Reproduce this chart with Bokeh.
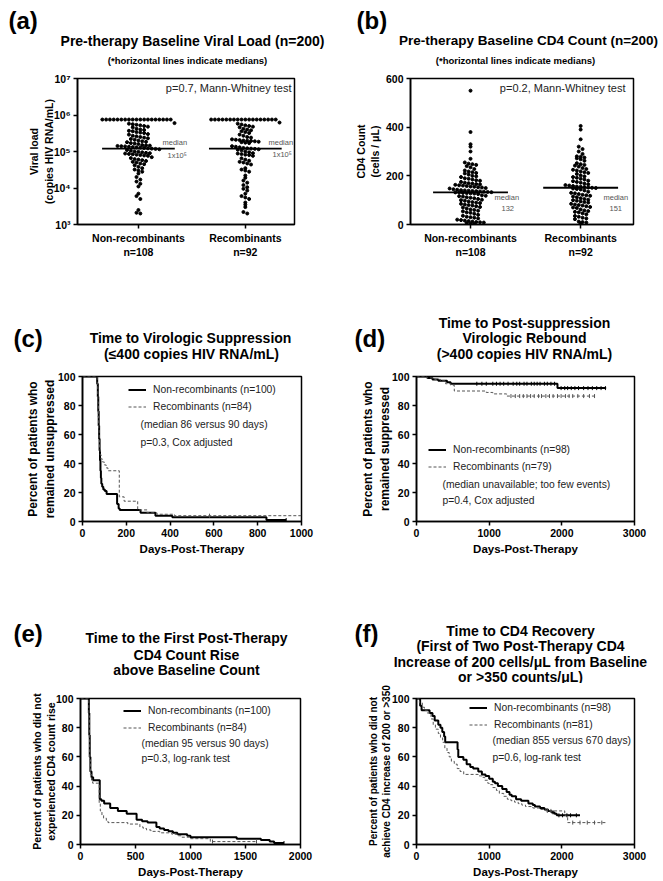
import numpy as np
from bokeh.plotting import figure
from bokeh.layouts import column, row
from bokeh.models import Label, FixedTicker, Legend, LegendItem, Range1d
from bokeh.embed import file_html
from bokeh.resources import INLINE

FONT = "Liberation Sans"

# ---------------- data ----------------
groups = ["Non-recombinants\nn=108", "Recombinants\nn=92"]

vl_nonrec = ([750000] * 19 +
             [600000, 580000, 560000, 540000, 520000, 500000, 480000, 460000] +
             [420000, 400000, 390000, 370000, 360000, 340000, 330000, 320000] +
             [300000, 290000, 270000, 260000, 250000, 240000, 230000] +
             [220000, 210000, 200000, 190000, 185000, 180000, 170000, 165000, 160000] +
             [150000, 148000, 145000, 142000, 140000, 138000, 135000, 132000, 130000,
              128000, 125000, 122000, 120000, 118000, 115000, 110000] +
             [105000, 100000, 98000, 95000, 92000, 90000, 88000, 86000, 84000, 82000,
              80000, 78000, 76000] +
             [70000, 66000, 62000, 60000, 58000, 55000, 52000, 50000, 47000, 45000] +
             [42000, 38000, 35000, 32000, 30000, 28000] +
             [25000, 20000, 17000, 15000] + [13000, 11000] +
             [7000, 6000, 5000] + [2500, 2100, 2000])
vl_rec = ([750000] * 18 +
          [620000, 580000, 550000, 520000, 500000, 480000, 460000] +
          [420000, 400000, 380000, 360000, 340000, 320000] +
          [290000, 270000, 250000, 240000] +
          [215000, 210000, 205000, 200000, 198000, 195000, 190000, 185000, 180000, 175000, 170000] +
          [140000, 135000, 130000, 125000, 122000, 120000, 118000, 115000, 112000, 108000] +
          [100000, 95000, 90000, 88000, 85000, 82000, 80000, 76000] +
          [65000, 60000, 56000, 52000, 50000, 47000, 44000] +
          [35000, 32000, 30000, 28000] + [22000, 19000, 16000, 14000] +
          [12000, 10500, 9500, 8500] + [7000, 6000, 5500, 5000] +
          [4000, 3500, 3000] + [2200, 2000])
vl_medians = [120000, 120000]

cd4_nonrec = ([550, 380, 330, 320, 300, 270] +
              [255, 250, 248, 245, 240, 235] +
              [228, 222, 218, 215, 212, 210, 205] +
              [200, 198, 195, 190, 188, 185, 182, 180, 175] +
              [172, 170, 168, 166, 165, 163, 161, 160, 158, 156, 155, 153, 152, 150, 148] +
              [145, 143, 141, 140, 139, 138, 137, 136, 135, 134, 133, 132, 131, 130, 129, 128, 127, 125] +
              [120, 118, 116, 115, 112, 110, 108, 105, 102, 100] +
              [98, 95, 92, 90, 88, 85, 82, 80, 78, 75] +
              [72, 70, 66, 62, 60, 57, 54, 50, 48] +
              [44, 40, 36, 32, 30, 28, 25] +
              [20, 18, 16, 14, 12, 10, 9, 8, 6, 4, 2])
cd4_rec = ([405, 390, 350, 320, 310, 300, 290] +
           [280, 278, 275, 272, 268, 262] +
           [252, 248, 245, 242, 238, 232] +
           [228, 225, 222, 218, 215, 212, 208] +
           [202, 198, 195, 192, 188, 185] +
           [180, 178, 175, 172, 168, 165, 162, 160] +
           [158, 156, 155, 154, 152, 151, 150, 148, 146, 144] +
           [140, 135, 130, 128, 125, 122, 120, 118, 115, 112] +
           [108, 105, 102, 100, 98, 95, 92, 90] +
           [85, 82, 80, 78, 75, 72, 70, 68] +
           [62, 58, 55, 52, 50, 46, 42] +
           [35, 32, 28, 25, 22] + [12, 10, 8, 5])
cd4_medians = [132, 151]

# Kaplan-Meier curves: time (days) and percent remaining from that time on
c_nr_t = [0, 67, 70, 72, 74, 76, 78, 80, 82, 84, 86, 90, 95, 102, 110, 158, 165, 170, 265, 333, 410, 840, 930]
c_nr_s = [100, 95, 86, 76, 66, 57, 49, 42, 35, 30, 26, 24, 22, 21, 19, 12, 9, 8, 6, 4, 3, 1, 1]
c_r_t = [0, 67, 70, 72, 74, 76, 78, 81, 85, 92, 100, 108, 116, 168, 190, 252, 295, 340, 420, 1000]
c_r_s = [100, 93, 82, 72, 63, 56, 50, 46, 43, 41, 39, 37, 35, 17, 14, 8, 6, 5, 4, 4]
c_nr_cens = [930]
c_r_cens = [580]

d_nr_t = [0, 150, 220, 300, 420, 470, 1940, 2610]
d_nr_s = [100, 99, 98, 97, 96, 95, 92, 92]
d_r_t = [0, 140, 250, 330, 400, 470, 520, 960, 1050, 1240, 2480]
d_r_s = [100, 99, 98, 97, 95, 94, 90, 89, 88, 86.5, 86.5]
d_nr_cens = [830, 900, 960, 1050, 1100, 1150, 1200, 1260, 1330, 1380, 1420, 1480, 1520, 1580,
             1620, 1660, 1700, 1760, 1800, 1850, 1900, 1990, 2040, 2080, 2130, 2180, 2230,
             2300, 2360, 2420, 2480, 2540, 2600]
d_r_cens = [1300, 1360, 1420, 1470, 1520, 1570, 1620, 1680, 1720, 1780, 1830, 1880, 1940,
            1990, 2050, 2100, 2150, 2220, 2300, 2380, 2450]

e_nr_t = [0, 76, 80, 84, 90, 100, 115, 175, 190, 215, 270, 340, 420, 510, 560, 610, 690, 720,
          760, 800, 840, 880, 970, 1000, 1420, 1640, 1720, 1760, 1850]
e_nr_s = [100, 90, 75, 60, 50, 46, 44, 31, 30, 28, 25, 23, 21, 17, 16, 15, 12, 11, 10, 9, 8, 7,
          6, 5, 4, 3, 2, 1, 1]
e_r_t = [0, 76, 80, 84, 90, 100, 110, 170, 180, 195, 210, 235, 250, 430, 540, 570, 600, 640,
         720, 830, 880, 920, 1000, 1180, 1600]
e_r_s = [100, 88, 72, 58, 48, 44, 42, 28, 23, 20, 18, 16, 15, 14, 12, 11, 10, 9, 8, 7, 6, 5,
         4, 2, 2]
e_nr_cens = [1850]
e_r_cens = [1200, 1600]

f_nr_t = [0, 50, 70, 180, 220, 250, 300, 330, 355, 380, 395, 565, 575, 645, 690, 740, 780, 850,
          900, 950, 1000, 1050, 1080, 1120, 1180, 1240, 1280, 1310, 1370, 1440, 1540, 1600,
          1630, 1700, 1760, 1810, 1860, 1900, 1930, 2250]
f_nr_s = [100, 95, 92, 90, 88, 85, 82, 80, 77, 74, 70, 65, 60, 58, 55, 53, 52, 50, 48, 47, 45,
          43, 42, 40, 38, 36, 34, 33, 31, 30, 28, 27, 26, 25, 24, 23, 22, 21, 20, 20]
f_r_t = [0, 40, 80, 110, 150, 200, 230, 260, 300, 330, 360, 390, 420, 450, 480, 520, 560, 600,
         650, 850, 900, 940, 980, 1000, 1050, 1100, 1140, 1200, 1250, 1300, 1350, 1400, 1450,
         1500, 1600, 1700, 1780, 2040, 2080, 2620]
f_r_s = [100, 97, 94, 92, 90, 86, 82, 79, 76, 73, 70, 66, 63, 60, 57, 55, 52, 50, 48, 47, 46,
         44, 42, 41, 39, 37, 35, 33, 31, 30, 29, 28, 27, 26, 25, 24, 23, 20, 15, 15]
f_nr_cens = [1880, 1960, 2010, 2070, 2120, 2200]
f_r_cens = [1800, 1850, 2150, 2250, 2350, 2450, 2550]

# ---------------- helpers ----------------
TXT = "#222222"
GREY = "#555555"
LEG = "10.3px"


def make_fig(w, h, bl, br, bt, bb, xr, yr, y_type="linear", ylab=None, xlab=None,
             ylab_size=12, ylab_standoff=3):
    p = figure(width=w, height=h, min_border_left=bl, min_border_right=br,
               min_border_top=bt, min_border_bottom=bb, x_range=xr, y_range=yr,
               y_axis_type=y_type, output_backend="svg", toolbar_location=None, tools="",
               title=None, frame_align=False)
    p.grid.visible = False
    p.outline_line_color = "black"
    p.outline_line_width = 1.5
    p.background_fill_color = "white"
    p.border_fill_color = "white"
    for ax in p.axis:
        ax.axis_line_width = 1.6
        ax.major_tick_line_width = 1.5
        ax.major_tick_in = 0
        ax.major_tick_out = 4
        ax.minor_tick_line_color = None
        ax.major_label_text_font = FONT
        ax.major_label_text_font_style = "bold"
        ax.major_label_text_font_size = "10.5px"
        ax.major_label_text_color = "black"
        ax.major_label_standoff = 3
        ax.axis_label_text_font = FONT
        ax.axis_label_text_font_style = "bold"
        ax.axis_label_text_color = "black"
    if ylab:
        p.yaxis.axis_label = ylab
        p.yaxis.axis_label_text_font_size = f"{ylab_size}px"
        p.yaxis.axis_label_standoff = ylab_standoff
    if xlab:
        p.xaxis.axis_label = xlab
        p.xaxis.axis_label_text_font_size = "11.5px"
        p.xaxis.axis_label_standoff = 3
    return p


def header(w, h, cell_left, cell_top, items):
    p = figure(width=w, height=h, x_range=Range1d(0, w), y_range=Range1d(0, h),
               min_border=0, output_backend="svg", toolbar_location=None, tools="",
               title=None, x_axis_location=None, y_axis_location=None, frame_align=False)
    p.grid.visible = False
    p.outline_line_color = None
    p.background_fill_color = "white"
    p.border_fill_color = "white"
    for x, y, text, size, align in items:
        p.add_layout(Label(x=x - cell_left, y=h - (y - cell_top), text=text, text_font=FONT,
                           text_font_size=f"{size}px", text_font_style="bold",
                           text_align=align, text_baseline="middle", text_color="black"))
    return p


def txt(p, fl, fb, x, y, text, size, align="left", color=TXT):
    p.add_layout(Label(x=x - fl, y=fb - y, x_units="screen", y_units="screen",
                       text=text, text_font=FONT, text_font_size=f"{size}px",
                       text_align=align, text_baseline="middle", text_color=color))


def row_offsets(ypx, h, sp):
    ypx = np.asarray(ypx)
    bins = np.round(ypx / h).astype(int)
    off = np.zeros(len(ypx))
    for b in np.unique(bins):
        idx = np.where(bins == b)[0]
        n = len(idx)
        off[idx] = (np.arange(n) - (n - 1) / 2.0) * sp
    return off


def km_level(T, S, t):
    i = np.searchsorted(np.asarray(T), t, side="right") - 1
    return S[max(i, 0)]


def km_panel(p, nr_t, nr_s, r_t, r_s, nr_c, r_c, labels, legend_loc):
    r1 = p.step(nr_t, nr_s, mode="after", line_color="black", line_width=2)
    r2 = p.step(r_t, r_s, mode="after", line_color=GREY, line_width=1, line_dash="3 2")
    p.scatter(nr_c, [km_level(nr_t, nr_s, t) for t in nr_c], marker="dash", angle=np.pi / 2,
              size=4, line_color="black", line_width=1)
    p.scatter(r_c, [km_level(r_t, r_s, t) for t in r_c], marker="dash", angle=np.pi / 2,
              size=4, line_color=GREY, line_width=1)
    leg = Legend(items=[LegendItem(label=labels[0], renderers=[r1]),
                        LegendItem(label=labels[1], renderers=[r2])],
                 location=legend_loc, padding=0, margin=0, spacing=0,
                 label_height=17, glyph_height=17, glyph_width=18, label_standoff=7,
                 label_text_font=FONT, label_text_font_size=LEG, label_text_color=TXT,
                 background_fill_alpha=0, border_line_color=None)
    p.add_layout(leg)


def dot_panel(p, vals_list, medians, ypx_func, ppu):
    for k, vals in enumerate(vals_list):
        yp = [ypx_func(v) for v in vals]
        off = row_offsets(yp, 3.8, 3.8)
        p.scatter(k + 1 + off / ppu, vals, size=3.0, color="black", marker="circle")
        p.segment(x0=[k + 1 - 0.34], x1=[k + 1 + 0.34], y0=[medians[k]], y1=[medians[k]],
                  line_color="black", line_width=1.8)
    p.xaxis.ticker = FixedTicker(ticks=[1, 2])
    p.xaxis.major_label_overrides = {1: groups[0], 2: groups[1]}


YT = FixedTicker(ticks=[0, 20, 40, 60, 80, 100])

# ---------------- panel (a) ----------------
ha = header(331, 71, 0, 0, [
    (8, 20, "(a)", 24, "left"),
    (192, 40, "Pre-therapy Baseline Viral Load (n=200)", 14, "center"),
    (187, 60, "(*horizontal lines indicate medians)", 9.5, "center")])
pa = make_fig(331, 219, 77, 37, 7, 66, Range1d(0.43, 2.46), Range1d(1e3, 1e7), "log",
              ylab="Viral load\n(copies HIV RNA/mL)", ylab_size=10.5, ylab_standoff=-4)
pa.yaxis.ticker = FixedTicker(ticks=[1000, 10000, 100000, 1000000, 10000000])
pa.yaxis.major_label_overrides = {1000: "10³", 10000: "10⁴", 100000: "10⁵",
                                  1000000: "10⁶", 10000000: "10⁷"}
dot_panel(pa, [vl_nonrec, vl_rec], vl_medians, lambda v: np.log10(v) * 146 / 4,
          217 / (2.46 - 0.43))
A = (pa, 77, 224)
txt(*A, 291, 87, "p=0.7, Mann-Whitney test", 11, align="right")
txt(*A, 162, 142, "median", 7.5, color=GREY)
txt(*A, 167, 155, "1x10⁵", 7.5, color=GREY)
txt(*A, 268, 142, "median", 7.5, color=GREY)
txt(*A, 272, 154, "1x10⁵", 7.5, color=GREY)

# ---------------- panel (b) ----------------
hb = header(331, 71, 331, 0, [
    (356, 20, "(b)", 24, "left"),
    (528, 40, "Pre-therapy Baseline CD4 Count (n=200)", 13.5, "center"),
    (515, 60, "(*horizontal lines indicate medians)", 9.5, "center")])
pb = make_fig(331, 219, 79, 29, 7, 66, Range1d(0.455, 2.48), Range1d(0, 600),
              ylab="CD4 Count\n(cells / μL)", ylab_size=10.5, ylab_standoff=2)
pb.yaxis.ticker = FixedTicker(ticks=[0, 200, 400, 600])
dot_panel(pb, [cd4_nonrec, cd4_rec], cd4_medians, lambda v: v * 146 / 600,
          223 / (2.48 - 0.455))
B = (pb, 410, 224)
txt(*B, 625, 87, "p=0.2, Mann-Whitney test", 11, align="right")
txt(*B, 494, 197, "median", 7.5, color=GREY)
txt(*B, 501, 208, "132", 7.5, color=GREY)
txt(*B, 603, 197, "median", 7.5, color=GREY)
txt(*B, 609, 208, "151", 7.5, color=GREY)

# ---------------- panel (c) ----------------
hc = header(331, 79, 0, 290, [
    (13, 338, "(c)", 24, "left"),
    (190, 337, "Time to Virologic Suppression", 14, "center"),
    (191, 353, "(≤400 copies HIV RNA/mL)", 14, "center")])
pc = make_fig(331, 221, 82, 30, 7, 69, Range1d(0, 1000), Range1d(0, 100),
              ylab="Percent of patients who\nremained unsuppressed", ylab_size=12,
              ylab_standoff=-2, xlab="Days-Post-Therapy")
pc.xaxis.ticker = FixedTicker(ticks=[0, 200, 400, 600, 800, 1000])
pc.yaxis.ticker = YT
km_panel(pc, c_nr_t, c_nr_s, c_r_t, c_r_s, c_nr_cens, c_r_cens,
         ["Non-recombinants (n=100)", "Recombinants (n=84)"], (46, 106.5))
C = (pc, 82, 521)
txt(*C, 140, 424, "(median 86 versus 90 days)", 10.3)
txt(*C, 140, 442, "p=0.3, Cox adjusted", 10.3)

# ---------------- panel (d) ----------------
hd = header(331, 79, 331, 290, [
    (354, 338, "(d)", 24, "left"),
    (524, 322, "Time to Post-suppression", 14, "center"),
    (524, 337, "Virologic Rebound", 14, "center"),
    (524, 353, "(>400 copies HIV RNA/mL)", 14, "center")])
pd_ = make_fig(331, 221, 85, 28, 7, 69, Range1d(0, 3000), Range1d(0, 100),
               ylab="Percent of patients who\nremained suppressed", ylab_size=12,
               ylab_standoff=-3, xlab="Days-Post-Therapy")
pd_.xaxis.ticker = FixedTicker(ticks=[0, 1000, 2000, 3000])
pd_.yaxis.ticker = YT
km_panel(pd_, d_nr_t, d_nr_s, d_r_t, d_r_s, d_nr_cens, d_r_cens,
         ["Non-recombinants (n=98)", "Recombinants (n=79)"], (12, 46.5))
D = (pd_, 416, 521)
txt(*D, 442, 484, "(median unavailable; too few events)", 10.3)
txt(*D, 442, 500, "p=0.4,  Cox adjusted", 10.3)

# ---------------- panel (e) ----------------
he = header(331, 93, 0, 590, [
    (13, 633, "(e)", 24, "left"),
    (186, 637, "Time to the First Post-Therapy", 14, "center"),
    (186, 654, "CD4 Count Rise", 14, "center"),
    (186, 669, "above Baseline Count", 14, "center")])
pe = make_fig(331, 197, 80, 31, 15, 35, Range1d(0, 2000), Range1d(0, 100),
              ylab="Percent of patients who did not\nexperienced CD4 count rise",
              ylab_size=10.5, ylab_standoff=-4, xlab="Days-Post-Therapy")
pe.xaxis.ticker = FixedTicker(ticks=[0, 500, 1000, 1500, 2000])
pe.yaxis.ticker = YT
km_panel(pe, e_nr_t, e_nr_s, e_r_t, e_r_s, e_nr_cens, e_r_cens,
         ["Non-recombinants (n=100)", "Recombinants (n=84)"], (43, 108.5))
E = (pe, 80, 845)
txt(*E, 141, 744, "(median 95 versus 90 days)", 10.3)
txt(*E, 141, 759, "p=0.3, log-rank test", 10.3)

# ---------------- panel (f) ----------------
hf = header(331, 93, 331, 590, [
    (354, 633, "(f)", 24, "left"),
    (520, 630, "Time to CD4 Recovery", 14, "center"),
    (520, 645, "(First of Two Post-Therapy CD4", 14, "center"),
    (520, 661, "Increase of 200 cells/μL from Baseline", 14, "center"),
    (520, 676, "or >350 counts/μL)", 14, "center")])
pf = make_fig(331, 197, 85, 28, 15, 35, Range1d(0, 3000), Range1d(0, 100),
              ylab="Percent of patients who did not\nachieve CD4 increase of 200 or >350",
              ylab_size=10, ylab_standoff=-3, xlab="Days-Post-Therapy")
pf.xaxis.ticker = FixedTicker(ticks=[0, 1000, 2000, 3000])
pf.yaxis.ticker = YT
km_panel(pf, f_nr_t, f_nr_s, f_r_t, f_r_s, f_nr_cens, f_r_cens,
         ["Non-recombinants (n=98)", "Recombinants (n=81)"], (53, 111.5))
F = (pf, 416, 845)
txt(*F, 492, 741, "(median 855 versus 670 days)", 10.3)
txt(*F, 492, 758, "p=0.6, log-rank test", 10.3)

layout = column(row(column(ha, pa), column(hb, pb)),
                row(column(hc, pc), column(hd, pd_)),
                row(column(he, pe), column(hf, pf)))
open("out.html", "w").write(file_html(layout, INLINE))
